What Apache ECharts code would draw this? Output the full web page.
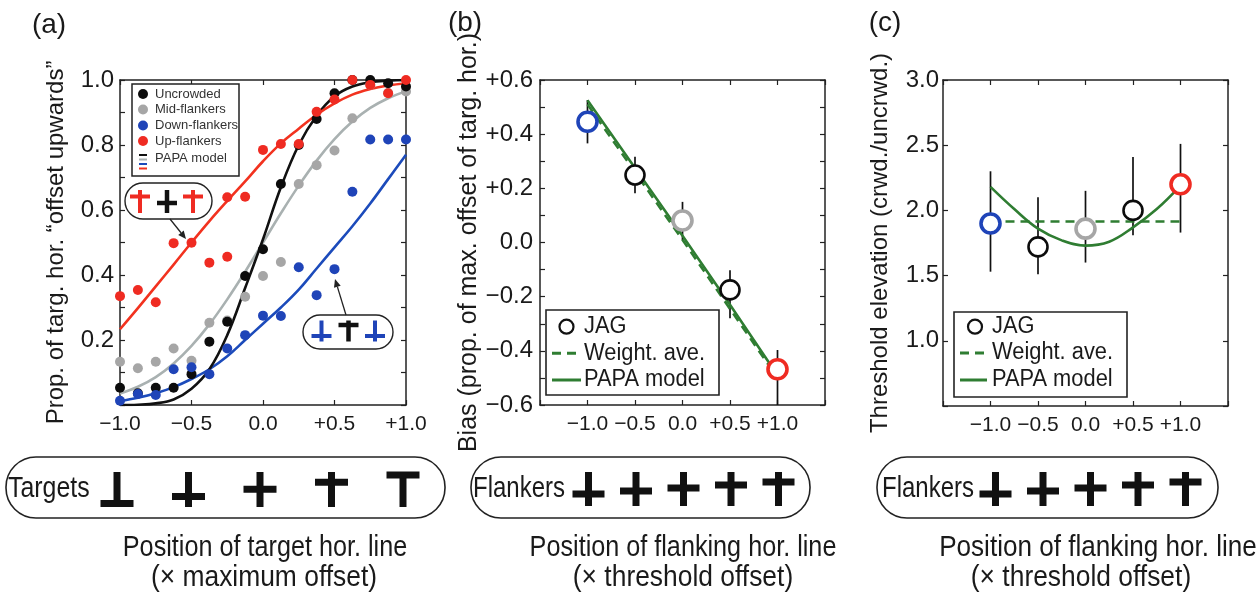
<!DOCTYPE html>
<html>
<head>
<meta charset="utf-8">
<script src="https://cdn.jsdelivr.net/npm/echarts@6/dist/echarts.min.js"></script>
<style>
  html, body { margin: 0; padding: 0; background: #fff; }
  #chart { width: 1258px; height: 597px; }
</style>
</head>
<body>
<div id="chart"></div>
<script>
  // ---- panel (a): psychometric data ----
  const curveX = [-1, -0.875, -0.75, -0.625, -0.5, -0.375, -0.25, -0.125, 0, 0.125, 0.25, 0.375, 0.5, 0.625, 0.75, 0.875, 1]
  const uncrowdedDots = [0.053, 0.036, 0.053, 0.053, 0.095, 0.195, 0.256, 0.397, 0.479, 0.68, 0.80, 0.88, 0.959, 1.0, 1.0, 0.99, 0.98]
  const midDots = [0.133, 0.113, 0.133, 0.174, 0.136, 0.253, 0.26, 0.333, 0.397, 0.44, 0.68, 0.738, 0.783, 0.882, 0.985, 0.96, 0.965]
  const downDots = [0.013, 0.034, 0.031, 0.11, 0.116, 0.095, 0.174, 0.215, 0.275, 0.274, 0.424, 0.338, 0.418, 0.656, 0.817, 0.817, 0.817]
  const upX = [-1, -0.875, -0.75, -0.625, -0.5, -0.375, -0.25, -0.25, -0.125, 0, 0.125, 0.25, 0.375, 0.5, 0.625, 0.75, 0.875, 1]
  const upDots = [0.335, 0.354, 0.316, 0.498, 0.499, 0.438, 0.456, 0.639, 0.641, 0.785, 0.803, 0.803, 0.902, 0.94, 1.0, 0.985, 0.959, 1.0]
  const uncrowdedFit = [0.0, 0.001, 0.005, 0.017, 0.05, 0.11, 0.215, 0.36, 0.51, 0.67, 0.8, 0.89, 0.95, 0.98, 0.993, 0.998, 1.0]
  const midFit = [0.035, 0.056, 0.086, 0.128, 0.182, 0.248, 0.325, 0.41, 0.5, 0.59, 0.675, 0.752, 0.818, 0.872, 0.914, 0.944, 0.965]
  const downFit = [0.012, 0.022, 0.036, 0.055, 0.08, 0.11, 0.15, 0.2, 0.25, 0.3, 0.355, 0.42, 0.485, 0.55, 0.62, 0.695, 0.77]
  const upFit = [0.233, 0.298, 0.365, 0.432, 0.5, 0.566, 0.628, 0.688, 0.75, 0.805, 0.85, 0.893, 0.928, 0.955, 0.972, 0.983, 0.99]

  // ---- panel (b): bias ----
  const flankX = [-1, -0.5, 0, 0.5, 1]
  const bias = [0.446, 0.249, 0.081, -0.175, -0.468]
  const biasLow = [0.366, 0.182, 0.009, -0.28, -0.6]
  const biasHigh = [0.526, 0.317, 0.15, -0.102, -0.397]
  const biasWeighted = [0.51, 0.26, 0.01, -0.245, -0.5]
  const biasPapa = [0.525, 0.275, 0.025, -0.23, -0.49]

  // ---- panel (c): threshold elevation ----
  const thresh = [1.90, 1.72, 1.86, 2.0, 2.2]
  const threshLow = [1.53, 1.51, 1.60, 1.81, 1.83]
  const threshHigh = [2.30, 2.10, 2.15, 2.41, 2.51]
  const weightX = [-1, 1]
  const threshWeighted = [1.915, 1.915]
  const papaX = [-1, -0.75, -0.5, -0.25, 0, 0.25, 0.5, 0.75, 1]
  const threshPapa = [2.18, 2.01, 1.86, 1.77, 1.73, 1.76, 1.87, 2.01, 2.19]

  // ---- tick labels ----
  const xTicks = [-1, -0.5, 0, 0.5, 1]
  const xTickLabels = ['\u22121.0', '\u22120.5', '0.0', '+0.5', '+1.0']
  const aYTicks = [0.2, 0.4, 0.6, 0.8, 1.0]
  const aYLabels = ['0.2', '0.4', '0.6', '0.8', '1.0']
  const bYTicks = [0.6, 0.4, 0.2, 0, -0.2, -0.4, -0.6]
  const bYLabels = ['+0.6', '+0.4', '+0.2', '0.0', '\u22120.2', '\u22120.4', '\u22120.6']
  const cYTicks = [1.0, 1.5, 2.0, 2.5, 3.0]
  const cYLabels = ['1.0', '1.5', '2.0', '2.5', '3.0']
  const targetOffsets = [-1, -0.5, 0, 0.5, 1]
  const flankerOffsets = [-1, -0.5, 0, 0.5, 1]

  const SANS = "'Liberation Sans', Arial, sans-serif"
  const INK = '#1a1a1a'
  const DOT = '#0c0c0c'
  const RED = '#ef2b22', BLUE = '#1f44b8', GREY = '#a6a6a6', GREEN = '#2f7d32'

  function pick(ticks, labels) {
    return function (v) {
      for (let i = 0; i < ticks.length; i++) {
        if (Math.abs(v - ticks[i]) < 1e-6) return labels[i]
      }
      return ''
    }
  }

  function xAxes(g, min, max) {
    const base = {
      type: 'value', gridIndex: g, min: min, max: max, interval: 0.5,
      axisLine: { show: true, onZero: false, lineStyle: { color: '#222', width: 1.5 } },
      axisTick: { show: true, inside: true, length: 5, lineStyle: { color: '#222', width: 1.2 } },
      splitLine: { show: false }
    }
    return [
      Object.assign({}, base, {
        position: 'bottom',
        axisLabel: { formatter: pick(xTicks, xTickLabels), fontFamily: SANS, fontSize: 21, color: INK, margin: 9, showMinLabel: true, showMaxLabel: true }
      }),
      Object.assign({}, base, { position: 'top', axisLabel: { show: false } })
    ]
  }

  function yAxes(g, min, max, interval, ticks, labels, name, gap, margin, nameSize) {
    const base = {
      type: 'value', gridIndex: g, min: min, max: max, interval: interval,
      axisLine: { show: true, onZero: false, lineStyle: { color: '#222', width: 1.5 } },
      axisTick: { show: true, inside: true, length: 5, lineStyle: { color: '#222', width: 1.2 } },
      splitLine: { show: false }
    }
    return [
      Object.assign({}, base, {
        position: 'left',
        name: name, nameLocation: 'middle', nameGap: gap, nameRotate: 90,
        nameTextStyle: { fontFamily: SANS, fontSize: nameSize, color: INK },
        axisLabel: { formatter: pick(ticks, labels), fontFamily: SANS, fontSize: 24, color: INK, margin: margin, showMinLabel: true, showMaxLabel: true }
      }),
      Object.assign({}, base, { position: 'right', axisLabel: { show: false } })
    ]
  }

  function fitLine(xs, ys, color, xi, yi, dashed, smooth) {
    return {
      type: 'line', xAxisIndex: xi, yAxisIndex: yi, silent: true,
      data: xs.map((x, i) => [x, ys[i]]),
      showSymbol: false, smooth: smooth || false, z: 2,
      lineStyle: { color: color, width: 2.6, type: dashed ? [9, 6] : 'solid' }
    }
  }

  function dots(xs, ys, color, xi, yi, z) {
    return {
      type: 'scatter', xAxisIndex: xi, yAxisIndex: yi, silent: true, clip: false,
      data: xs.map((x, i) => [x, ys[i]]),
      symbolSize: 10, z: z, itemStyle: { color: color, opacity: 1 }
    }
  }

  function errorBars(xs, lo, hi, xi, yi) {
    return {
      type: 'custom', xAxisIndex: xi, yAxisIndex: yi, silent: true, z: 1,
      data: xs.map((x, i) => [x, lo[i], hi[i]]),
      encode: { x: 0, y: [1, 2] },
      renderItem: function (params, api) {
        const p1 = api.coord([api.value(0), api.value(1)])
        const p2 = api.coord([api.value(0), api.value(2)])
        return { type: 'line', shape: { x1: p1[0], y1: p1[1], x2: p2[0], y2: p2[1] }, style: { stroke: '#111', lineWidth: 1.7 } }
      }
    }
  }

  const ringColors = [BLUE, DOT, GREY, DOT, RED]
  function rings(xs, ys, xi, yi) {
    return {
      type: 'scatter', xAxisIndex: xi, yAxisIndex: yi, silent: true, clip: false, z: 5,
      symbolSize: 19,
      data: xs.map((x, i) => ({
        value: [x, ys[i]],
        itemStyle: { color: '#fff', opacity: 1, borderColor: ringColors[i], borderWidth: ringColors[i] === DOT ? 2.6 : 3.6 }
      }))
    }
  }

  let myChart = echarts.init(document.getElementById('chart'))

  let option = {
    backgroundColor: '#fff',
    animation: false,
    grid: [
      { left: 120, top: 80, width: 286, height: 325 },
      { left: 540, top: 80, width: 285, height: 325 },
      { left: 943, top: 80, width: 285, height: 326 }
    ],
    xAxis: [].concat(xAxes(0, -1, 1), xAxes(1, -1.5, 1.5), xAxes(2, -1.5, 1.5)),
    yAxis: [].concat(
      yAxes(0, 0, 1, 0.1, aYTicks, aYLabels, 'Prop. of targ. hor. \u201coffset upwards\u201d', 52, 6, 24),
      yAxes(1, -0.6, 0.6, 0.1, bYTicks, bYLabels, 'Bias (prop. of max. offset of targ. hor.)', 55, 7, 25),
      yAxes(2, 0.5, 3.0, 0.5, cYTicks, cYLabels, 'Threshold elevation (crwd./uncrwd.)', 51, 4, 24)
    ),
    series: [
      fitLine(curveX, midFit, '#a9b1b1', 0, 0, false, 0.4),
      fitLine(curveX, downFit, '#1c4bbb', 0, 0, false, 0.4),
      fitLine(curveX, uncrowdedFit, '#111', 0, 0, false, 0.4),
      fitLine(curveX, upFit, '#f2321f', 0, 0, false, 0.4),
      dots(curveX, midDots, GREY, 0, 0, 3),
      dots(curveX, uncrowdedDots, DOT, 0, 0, 4),
      dots(curveX, downDots, BLUE, 0, 0, 5),
      dots(upX, upDots, RED, 0, 0, 6),

      errorBars(flankX, biasLow, biasHigh, 2, 2),
      fitLine(flankX, biasWeighted, GREEN, 2, 2, true),
      fitLine(flankX, biasPapa, GREEN, 2, 2),
      rings(flankX, bias, 2, 2),

      errorBars(flankX, threshLow, threshHigh, 4, 4),
      fitLine(weightX, threshWeighted, GREEN, 4, 4, true),
      fitLine(papaX, threshPapa, GREEN, 4, 4, false, 0.4),
      rings(flankX, thresh, 4, 4)
    ]
  }

  myChart.setOption(option)

  // ---- decorations: legends, callouts, stimulus boxes, captions ----
  function txt(x, y, s, size, align, color, sx) {
    return { type: 'text', x: x, y: y, z: 20, silent: true, scaleX: sx || 1,
      style: { text: s, fontSize: size, fontFamily: SANS, fill: color || INK, textAlign: align || 'left', textVerticalAlign: 'middle', align: align || 'left', verticalAlign: 'middle' } }
  }
  function box(x, y, w, h, r, lw) {
    return { type: 'rect', z: 19, silent: true, shape: { x: x, y: y, width: w, height: h, r: r }, style: { fill: '#fff', stroke: '#222', lineWidth: lw || 1.6 } }
  }
  function hline(x1, x2, y, color, w, dash) {
    return { type: 'line', z: 20, silent: true, shape: { x1: x1, y1: y, x2: x2, y2: y }, style: { stroke: color, lineWidth: w, lineDash: dash || null } }
  }
  function glyph(cx, top, h, barY, t, bw, color) {
    return [
      { type: 'rect', z: 21, silent: true, shape: { x: cx - t / 2, y: top, width: t, height: h }, style: { fill: color } },
      { type: 'rect', z: 21, silent: true, shape: { x: cx - bw / 2, y: barY - t / 2, width: bw, height: t }, style: { fill: color } }
    ]
  }
  function arrow(sx, sy, tx, ty) {
    const dx = tx - sx, dy = ty - sy, L = Math.sqrt(dx * dx + dy * dy)
    const ux = dx / L, uy = dy / L, hl = 8, hw = 3.5
    const bx = tx - ux * hl, by = ty - uy * hl
    return [
      { type: 'line', z: 22, silent: true, shape: { x1: sx, y1: sy, x2: bx, y2: by }, style: { stroke: '#222', lineWidth: 1.3 } },
      { type: 'polygon', z: 22, silent: true, shape: { points: [[tx, ty], [bx - uy * hw, by + ux * hw], [bx + uy * hw, by - ux * hw]] }, style: { fill: '#222' } }
    ]
  }
  function sideLegend(x0, y0, w, h, circleX, iconX0, iconX1, textX, rows) {
    return [
      box(x0, y0, w, h, 0, 1.6),
      { type: 'circle', z: 21, silent: true, shape: { cx: circleX, cy: rows[0], r: 7 }, style: { fill: '#fff', stroke: '#111', lineWidth: 2.2 } },
      txt(textX, rows[0], 'JAG', 23, 'left', INK, 0.95),
      hline(iconX0, iconX1, rows[1], GREEN, 3, [9, 6]),
      txt(textX, rows[1], 'Weight. ave.', 23, 'left', INK, 0.95),
      hline(iconX0, iconX1, rows[2], GREEN, 3),
      txt(textX, rows[2], 'PAPA model', 23, 'left', INK, 0.95)
    ]
  }

  let g = []
  g.push(txt(49, 25, '(a)', 28, 'center'))
  g.push(txt(465, 23, '(b)', 28, 'center'))
  g.push(txt(885, 23, '(c)', 28, 'center'))

  // legend (a)
  g.push(box(132, 84, 107, 92, 0, 1.5))
  const aLegend = [['Uncrowded', DOT], ['Mid-flankers', GREY], ['Down-flankers', BLUE], ['Up-flankers', RED]]
  const aRows = [94, 109.5, 125.5, 141]
  aLegend.forEach((it, i) => {
    g.push({ type: 'circle', z: 21, silent: true, shape: { cx: 143, cy: aRows[i], r: 5 }, style: { fill: it[1] } })
    g.push(txt(155, aRows[i], it[0], 13, 'left', '#333'))
  })
  ;[['#111', 155], ['#a9b1b1', 159.5], ['#1c4bbb', 164], ['#f2321f', 168.5]].forEach(l => g.push(hline(139, 147, l[1], l[0], 2)))
  g.push(txt(155, 158, 'PAPA model', 13, 'left', '#333'))

  // callouts in (a)
  g.push(box(125, 183, 87, 36, 18, 1.4))
  g = g.concat(glyph(140, 190, 23, 196.5, 4, 20, RED), glyph(167, 190, 23, 203, 4.5, 20, '#111'), glyph(193, 190, 23, 196.5, 4, 20, RED))
  g = g.concat(arrow(170, 219, 186, 239))
  g.push(box(303, 315, 90, 34, 17, 1.4))
  g = g.concat(glyph(321.5, 320.5, 21, 336, 4, 20, BLUE), glyph(348.5, 320.5, 21, 325, 4.5, 20, '#111'), glyph(375, 320.5, 21, 336, 4, 20, BLUE))
  g = g.concat(arrow(346, 315, 335, 279))

  // legends (b), (c)
  g = g.concat(sideLegend(546, 310, 173, 85, 566.5, 552, 581, 584, [326.7, 353.3, 380]))
  g = g.concat(sideLegend(954, 312, 173, 85, 975, 960, 987, 992, [326.7, 353, 380]))

  // stimulus boxes
  g.push(box(6, 457, 439, 61, 30, 1.6))
  g.push(box(471, 457, 339, 61, 30, 1.6))
  g.push(box(877, 457, 341, 61, 30, 1.6))
  g.push(txt(8, 489, 'Targets', 30, 'left', INK, 0.83))
  g.push(txt(473, 489, 'Flankers', 30, 'left', INK, 0.8))
  g.push(txt(882, 489, 'Flankers', 30, 'left', INK, 0.8))
  targetOffsets.forEach((o, i) => {
    const px = myChart.convertToPixel({ xAxisIndex: 0 }, xTicks[i]) - 3
    g = g.concat(glyph(px, 472, 35, 489.25 - o * 14.25, 7, 33, '#111'))
  })
  flankerOffsets.forEach((o, i) => {
    const pb = myChart.convertToPixel({ xAxisIndex: 2 }, xTicks[i]) + 1
    const pc = myChart.convertToPixel({ xAxisIndex: 4 }, xTicks[i]) + 5
    g = g.concat(glyph(pb, 472, 34, 488 - o * 6, 7, 32, '#111'))
    g = g.concat(glyph(pc, 472, 34, 488 - o * 6, 7, 32, '#111'))
  })

  // captions
  g.push(txt(265, 548, 'Position of target hor. line', 30, 'center', INK, 0.84))
  g.push(txt(264, 578, '(\u00d7 maximum offset)', 30, 'center', INK, 0.88))
  g.push(txt(683, 548, 'Position of flanking hor. line', 30, 'center', INK, 0.84))
  g.push(txt(683, 578, '(\u00d7 threshold offset)', 30, 'center', INK, 0.88))
  g.push(txt(1098, 548, 'Position of flanking hor. line', 30, 'center', INK, 0.87))
  g.push(txt(1081, 578, '(\u00d7 threshold offset)', 30, 'center', INK, 0.88))

  myChart.setOption({ graphic: g })
</script>
</body>
</html>
